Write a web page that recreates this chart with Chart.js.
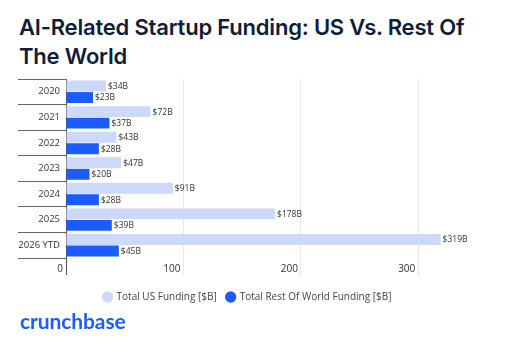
<!DOCTYPE html>
<html lang="en">

<head>
    <meta charset="UTF-8">
    <title>AI-Related Startup Funding</title>
    <style>
        body { margin: 0; background: #fff; width: 512px; height: 343px; overflow: hidden; position: relative; }
        #title { position: absolute; left: 19px; top: 13px; width: 490px; font-family: Inter, sans-serif; font-weight: 600;
                 font-size: 22px; line-height: 29px; color: #0f1c3a; letter-spacing: -0.2px; }
        #box { position: absolute; left: 0; top: 70px; width: 512px; height: 242px; }
        #logo { position: absolute; left: 20px; top: 308px; font-family: Lato, sans-serif; font-weight: 700;
                font-size: 21px; color: #1a5cff; letter-spacing: -0.1px; }
    </style>
</head>

<body>
    <div id="title">AI-Related Startup Funding: US Vs. Rest Of<br>The World</div>
    <div id="box">
        <canvas id="myChart"></canvas>
    </div>
    <div id="logo">crunchbase</div>

    <script src="https://cdn.jsdelivr.net/npm/chart.js"></script>

    <script>
        let v_labels = ["2020", "2021", "2022", "2023", "2024", "2025", "2026 YTD"];
        let v_us = [34, 72, 43, 47, 91, 178, 319];
        let v_row = [23, 37, 28, 20, 28, 39, 45];
        let v_names = ["Total US Funding [$B]", "Total Rest Of World Funding [$B]"];

        // "$34B" style text at the end of every bar
        const barText = {
            id: "barText",
            afterDatasetsDraw(chart) {
                const c = chart.ctx;
                c.save();
                c.font = "8.5px 'Open Sans', sans-serif";
                c.fillStyle = "#333";
                c.textBaseline = "middle";
                chart.data.datasets.forEach((ds, i) => {
                    chart.getDatasetMeta(i).data.forEach((bar, j) => {
                        c.fillText("$" + ds.data[j] + "B", bar.x + 2, bar.y + 0.5);
                    });
                });
                c.restore();
            }
        };

        const ctx = document.getElementById("myChart");

        new Chart(ctx, {
            type: 'bar',
            data: {
                labels: v_labels,
                datasets: [{
                    label: v_names[0],
                    data: v_us,
                    backgroundColor: "#cdd9fb"
                }, {
                    label: v_names[1],
                    data: v_row,
                    backgroundColor: "#1a5cff"
                }]
            },
            options: {
                indexAxis: 'y',
                responsive: true,
                maintainAspectRatio: false,
                animation: false,
                layout: { padding: { left: 18, right: 35, top: 9, bottom: 0 } },
                datasets: { bar: { categoryPercentage: 0.9, barPercentage: 0.95 } },
                scales: {
                    x: {
                        min: 0,
                        max: 350,
                        border: { display: false },
                        grid: {
                            color: (c) => c.tick && c.tick.value === 0 ? "#555" : "#e8e8e8",
                            tickLength: 17
                        },
                        ticks: {
                            stepSize: 100,
                            align: 'end',
                            labelOffset: -3,
                            padding: -12,
                            color: "#333",
                            font: { family: "'Open Sans', sans-serif", size: 10 }
                        },
                        afterBuildTicks(s) { s.ticks = s.ticks.filter(t => t.value % 100 === 0); },
                        afterFit(s) { s.height = 24; }
                    },
                    y: {
                        border: { color: "#555" },
                        grid: {
                            offset: true,
                            drawOnChartArea: false,
                            tickLength: 48,
                            color: "#666"
                        },
                        ticks: {
                            padding: -42,
                            color: "#333",
                            font: { family: "'Open Sans', sans-serif", size: 9.5 }
                        },
                        afterFit(s) { s.width = 48; }
                    }
                },
                plugins: {
                    tooltip: { enabled: false },
                    legend: {
                        position: 'bottom',
                        labels: {
                            usePointStyle: true,
                            pointStyle: 'circle',
                            boxWidth: 8,
                            boxHeight: 8,
                            padding: 10,
                            color: "#444",
                            font: { family: "'Open Sans', sans-serif", size: 10 }
                        }
                    }
                }
            },
            plugins: [barText]
        });
    </script>

</body>

</html>
